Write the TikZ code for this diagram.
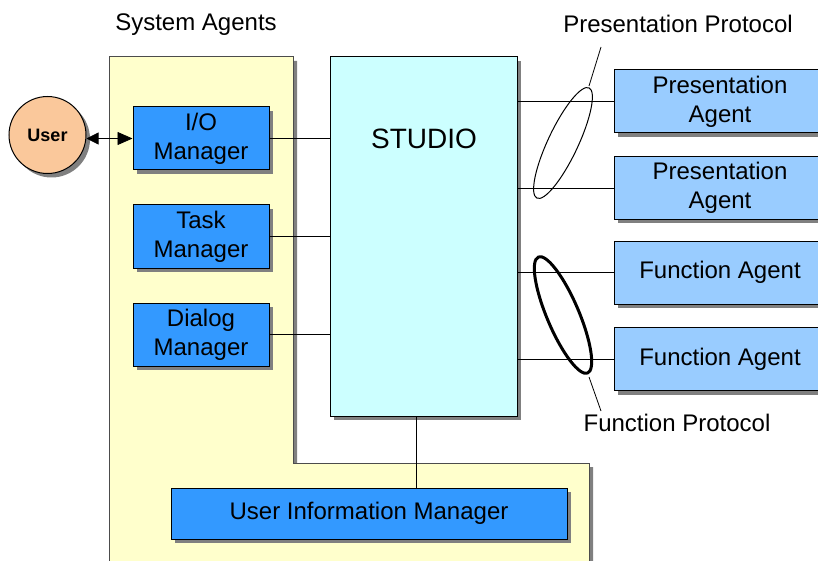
\documentclass[tikz,border=0pt]{standalone}
\usepackage{fontspec}
\setmainfont{Liberation Sans}
\usetikzlibrary{shadows,arrows.meta,calc}
\definecolor{yel}{HTML}{FFFFCC}
\definecolor{mgr}{HTML}{3399FF}
\definecolor{agt}{HTML}{99CCFF}
\definecolor{stu}{HTML}{CCFFFF}
\definecolor{usr}{HTML}{FAC89B}
\definecolor{shd}{HTML}{808080}
\begin{document}
\begin{tikzpicture}[x=1pt,y=-1pt,
  box/.style={draw=black, line width=1pt, inner sep=0pt, align=center,
    font=\fontsize{24}{29}\selectfont,
    drop shadow={shadow xshift=4pt, shadow yshift=-4pt, fill=shd, opacity=1}},
  mgrbox/.style={box, fill=mgr, minimum width=136pt, minimum height=63pt},
  agtbox/.style={box, fill=agt, minimum width=212pt, minimum height=63pt},
  txt/.style={inner sep=0pt, font=\fontsize{24}{29}\selectfont},
  conn/.style={draw=black, line width=0.8pt}]
\useasboundingbox (0,0) rectangle (818,561);
\clip (0,0) rectangle (818,561);
% system agents region
\fill[shd] (113,61) -- (297,61) -- (297,467) -- (593,467) -- (593,570) -- (113,570) -- cycle;
\filldraw[fill=yel, draw=black!70, line width=1pt] (109,57) -- (293,57) -- (293,463) -- (589,463) -- (589,570) -- (109,570) -- cycle;
\node[txt] (sys) at (196,25) {System Agents};
% studio
\node[box, fill=stu, minimum width=187pt, minimum height=359pt] (studio) at (423.5,236.5) {};
\node[inner sep=0pt, font=\fontsize{28}{32}\selectfont] (studiolbl) at (424,139) {STUDIO};
% managers
\node[mgrbox] (io) at (201,138.5) {I/O\\Manager};
\node[mgrbox] (task) at (201,236.5) {Task\\Manager};
\node[mgrbox] (dialog) at (201,334.5) {Dialog\\Manager};
\node[box, fill=mgr, minimum width=396pt, minimum height=51pt] (uim) at (369,513.5) {User Information Manager};
% user
\node[box, circle, fill=usr, minimum size=77pt, font=\fontsize{18}{22}\selectfont\bfseries] (user) at (47.5,135) {User};
% agents
\node[agtbox] (pa1) at (720,101.5) {Presentation\\Agent};
\node[agtbox] (pa2) at (720,188) {Presentation\\Agent};
\node[agtbox] (fa1) at (720,272.5) {Function Agent};
\node[agtbox] (fa2) at (720,359) {Function Agent};
% connectors
\draw[conn, {Triangle[length=12pt,width=12pt]}-{Triangle[length=15pt,width=13pt]}] (io.west -| user.east) -- (io.west);
\draw[conn] (io.east) -- (io.east -| studio.west);
\draw[conn] (task.east) -- (task.east -| studio.west);
\draw[conn] (dialog.east) -- (dialog.east -| studio.west);
\draw[conn] (pa1.west) -- (pa1.west -| studio.east);
\draw[conn] (pa2.west) -- (pa2.west -| studio.east);
\draw[conn] (fa1.west) -- (fa1.west -| studio.east);
\draw[conn] (fa2.west) -- (fa2.west -| studio.east);
\coordinate (vx) at (416,0);
\draw[conn] (studio.south -| vx) -- (uim.north -| vx);
% protocols
\draw[line width=1pt, rotate around={64.7:(563,143)}] (563,143) ellipse [x radius=61, y radius=15];
\draw[line width=3pt, rotate around={113:(563,315)}] (563,315) ellipse [x radius=63, y radius=16];
\node[txt] (pp) at (678,24) {Presentation Protocol};
\node[txt] (fp) at (677,423) {Function Protocol};
\coordinate (ptop) at (589,86);
\coordinate (pend) at (601,47);
\coordinate (fbot) at (589,377);
\coordinate (fend) at (601,411);
\draw[conn] (ptop) -- (pend);
\draw[conn] (fbot) -- (fend);
\end{tikzpicture}
\end{document}
